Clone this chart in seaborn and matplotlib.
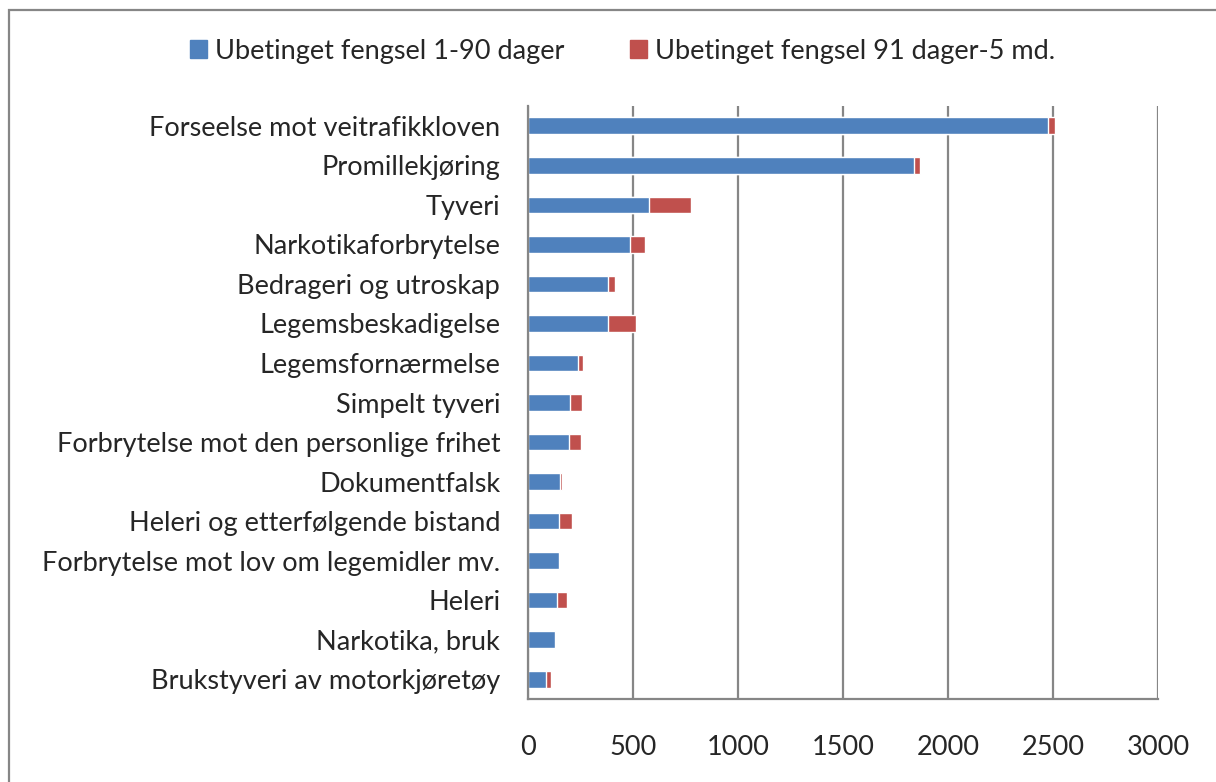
import pandas as pd
import matplotlib.pyplot as plt
import matplotlib.patches as mpatches
import seaborn as sns

# Data
categories = [
    "Forseelse mot veitrafikkloven",
    "Promillekjøring",
    "Tyveri",
    "Narkotikaforbrytelse",
    "Bedrageri og utroskap",
    "Legemsbeskadigelse",
    "Legemsfornærmelse",
    "Simpelt tyveri",
    "Forbrytelse mot den personlige frihet",
    "Dokumentfalsk",
    "Heleri og etterfølgende bistand",
    "Forbrytelse mot lov om legemidler mv.",
    "Heleri",
    "Narkotika, bruk",
    "Brukstyveri av motorkjøretøy",
]
short_terms = [2475, 1840, 577, 487, 383, 381, 240, 202, 195, 154, 149, 149, 138, 130, 87]
long_terms = [35, 28, 200, 70, 31, 132, 20, 57, 56, 9, 59, 0, 49, 0, 24]
series_names = ["Ubetinget fengsel 1-90 dager", "Ubetinget fengsel 91 dager-5 md."]
x_ticks = [0, 500, 1000, 1500, 2000, 2500, 3000]

blue = "#4F81BD"
red = "#C0504D"
grey = "#868686"

df = pd.DataFrame({
    "category": categories,
    "short": short_terms,
    "long": long_terms,
})
df["total"] = df["short"] + df["long"]

sns.set_style("white")
plt.rcParams["font.family"] = ["Lato", "DejaVu Sans"]
fs = 19.5

fig = plt.figure(figsize=(12.16, 7.82), dpi=100)
ax = fig.add_axes([528 / 1216, 1 - 699 / 782, 630 / 1216, 593 / 782])

# stacked bars: draw the total in red, the first series in blue on top
sns.barplot(data=df, y="category", x="total", color=red, width=0.42,
            orient="h", ax=ax, saturation=1, zorder=3)
sns.barplot(data=df, y="category", x="short", color=blue, width=0.42,
            orient="h", ax=ax, saturation=1, zorder=4)

ax.set_xlim(0, 3000)
ax.set_ylim(len(categories) - 0.5, -0.5)
ax.set_xticks(x_ticks)
ax.set_xticklabels([str(t) for t in x_ticks], fontsize=fs)
ax.set_xlabel("")
ax.set_ylabel("")
ax.tick_params(axis="y", labelsize=fs, length=0, pad=20)
ax.set_yticks([i + 0.5 for i in range(-1, len(categories))], minor=True)
ax.tick_params(axis="y", which="minor", length=9, width=1.5, color=grey, direction="out")
ax.tick_params(axis="x", length=8, width=1.5, color=grey, direction="out", pad=18)

ax.grid(axis="x", color=grey, linewidth=1.6, zorder=0)
ax.set_axisbelow(True)
for side in ["top", "right"]:
    ax.spines[side].set_visible(False)
for side in ["left", "bottom"]:
    ax.spines[side].set_color(grey)
    ax.spines[side].set_linewidth(1.6)
    ax.spines[side].set_zorder(5)

handles = [mpatches.Patch(color=blue), mpatches.Patch(color=red)]
fig.legend(handles, series_names, loc="center", bbox_to_anchor=(0.512, 1 - 51 / 782),
           ncol=2, frameon=False, fontsize=fs, handlelength=0.63, handleheight=0.63,
           handletextpad=0.3, columnspacing=2.4)

# outer chart frame
frame = mpatches.Rectangle((9 / 1216, -0.05), 1.2, 1 - 10 / 782 + 0.05,
                           transform=fig.transFigure, fill=False,
                           edgecolor=grey, linewidth=1.6)
fig.patches.append(frame)

fig.savefig("out.png", dpi=100)
